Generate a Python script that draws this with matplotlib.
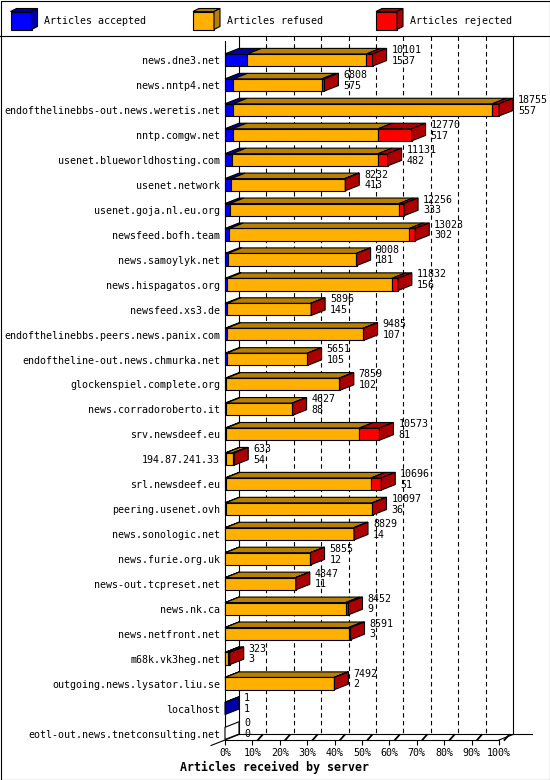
import matplotlib.pyplot as plt
from matplotlib.patches import Polygon, Rectangle

hosts = ["news.dne3.net", "news.nntp4.net", "endofthelinebbs-out.news.weretis.net",
         "nntp.comgw.net", "usenet.blueworldhosting.com", "usenet.network",
         "usenet.goja.nl.eu.org", "newsfeed.bofh.team", "news.samoylyk.net",
         "news.hispagatos.org", "newsfeed.xs3.de", "endofthelinebbs.peers.news.panix.com",
         "endoftheline-out.news.chmurka.net", "glockenspiel.complete.org",
         "news.corradoroberto.it", "srv.newsdeef.eu", "194.87.241.33", "srl.newsdeef.eu",
         "peering.usenet.ovh", "news.sonologic.net", "news.furie.org.uk",
         "news-out.tcpreset.net", "news.nk.ca", "news.netfront.net", "m68k.vk3heg.net",
         "outgoing.news.lysator.liu.se", "localhost", "eotl-out.news.tnetconsulting.net"]
offered = [10101, 6808, 18755, 12770, 11131, 8232, 12256, 13023, 9008, 11832, 5896, 9485,
           5651, 7859, 4627, 10573, 633, 10696, 10097, 8829, 5855, 4847, 8452, 8591, 323,
           7492, 1, 0]
accepted = [1537, 575, 557, 517, 482, 413, 333, 302, 181, 156, 145, 107, 105, 102, 88, 81,
            54, 51, 36, 14, 12, 11, 9, 3, 3, 2, 1, 0]
refused = [8145, 6053, 17738, 9973, 9999, 7789, 11583, 12311, 8807, 11266, 5731, 9348,
           5526, 7717, 4524, 9122, 469, 9955, 10041, 8785, 5833, 4821, 8243, 8458, 210,
           7470, 0, 0]
rejected = [419, 180, 460, 2280, 650, 30, 340, 410, 20, 410, 20, 30, 20, 40, 15, 1370, 110,
            690, 20, 30, 10, 15, 200, 130, 110, 20, 0, 0]
legend_labels = ["Articles accepted", "Articles refused", "Articles rejected"]

# front colour, darker colour for top/side faces
colors = [("#0000ff", "#0000a8"), ("#ffb000", "#b88000"), ("#ff0000", "#ad0000")]
mono = "DejaVu Sans Mono"
fs = 7.2

W, H = 550, 780
fig = plt.figure(figsize=(W / 100, H / 100), dpi=100)

# decoration layer in pixels: border, legend, title
frame = fig.add_axes([0, 0, 1, 1])
frame.set_xlim(0, W)
frame.set_ylim(H, 0)
frame.axis("off")
frame.add_patch(Rectangle((0.5, 0.5), W - 1, H - 1, fill=False, lw=0.8, ec="black"))
frame.plot([0, W], [36, 36], color="black", lw=0.8)

for (lx, tx), lab, (c1, c2) in zip([(10.5, 44), (193, 227), (376, 410)], legend_labels, colors):
    top, h, w, ddx, ddy = 11.5, 18, 21, 6, 3
    frame.add_patch(Rectangle((lx, top), w, h, fc=c1, ec="black", lw=0.8))
    frame.add_patch(Polygon([(lx, top), (lx + w, top), (lx + w + ddx, top - ddy), (lx + ddx, top - ddy)],
                            fc=c2, ec="black", lw=0.8))
    frame.add_patch(Polygon([(lx + w, top), (lx + w + ddx, top - ddy), (lx + w + ddx, top + h - ddy),
                             (lx + w, top + h)], fc=c2, ec="black", lw=0.8))
    frame.text(tx, 21, lab, fontsize=fs, family=mono, va="center", ha="left")

frame.text(180, 767, "Articles received by server", fontsize=8.4, family=mono,
           fontweight="bold", va="center", ha="left")

# chart area: x in percent of the biggest peer, y in rows
x0_px, x100_px = 225, 499
row0_px, row_px = 60, 24.94
top_px, floor_px = 41.5, 740
ax = fig.add_axes([x0_px / W, 1 - floor_px / H, (x100_px - x0_px) / W, (floor_px - top_px) / H])
ax.patch.set_alpha(0)
ybot = (floor_px - row0_px) / row_px
ytop = (top_px - row0_px) / row_px
ax.set_xlim(0, 100)
ax.set_ylim(ybot, ytop)

px_x = 100 / (x100_px - x0_px)
DX = 14 * px_x          # depth to the right
DY = 5.5 / row_px       # depth upwards
BH = 6.1 / row_px       # half height of a bar front

for s in ["top", "right"]:
    ax.spines[s].set_visible(False)
for s in ["left", "bottom"]:
    ax.spines[s].set_linewidth(0.8)
ax.set_yticks([])
ax.set_xticks(range(0, 101, 10))
ax.set_xticklabels([f"{k}%" for k in range(0, 101, 10)], family=mono, fontsize=fs)
ax.tick_params(axis="x", length=3.6, width=0.8, pad=2)

# back walls and floor
yb = ybot - DY
yt = ytop - DY
kw = dict(color="black", lw=0.8, clip_on=False)
ax.plot([DX, DX], [yt, yb], **kw)
ax.plot([100 + DX, 100 + DX], [yt, yb], **kw)
ax.plot([DX, 112], [yb, yb], **kw)
ax.plot([-5.1, DX], [ybot + DY, yb], **kw)
ax.plot([100, 100 + DX], [ybot, yb], **kw)
for k in range(10, 91, 10):
    ax.plot([k + DX, k + DX], [yt, yb], color="black", lw=0.8, ls=(0, (4, 3)),
            clip_on=False, zorder=1)
for k in range(10, 101, 10):
    ax.plot([k + 2.0, k + 3.6], [ybot, ybot - 0.2], color="black", lw=1.3, clip_on=False)

vmax = max(offered)
for i, name in enumerate(hosts):
    x = 0.0
    side = "white"
    for val, (c1, c2) in zip([accepted[i], refused[i], rejected[i]], colors):
        if val <= 0:
            continue
        w = val / vmax * 100
        ax.add_patch(Rectangle((x, i - BH), w, 2 * BH, fc=c1, ec="black", lw=0.8,
                               zorder=3, clip_on=False))
        ax.add_patch(Polygon([(x, i - BH), (x + w, i - BH), (x + w + DX, i - BH - DY),
                              (x + DX, i - BH - DY)], fc=c2, ec="black", lw=0.8,
                             zorder=3, clip_on=False))
        x += w
        side = c2
    ax.add_patch(Polygon([(x, i - BH), (x + DX, i - BH - DY), (x + DX, i + BH - DY),
                          (x, i + BH)], fc=side, ec="black", lw=0.8, zorder=3, clip_on=False))
    ax.text(-1.8, i + 0.05, name, family=mono, fontsize=fs, ha="right", va="center",
            clip_on=False)
    ax.text(x + DX + 1.8, i - 0.4, str(offered[i]), family=mono, fontsize=fs,
            ha="left", va="center", zorder=4)
    ax.text(x + DX + 1.8, i + 0.03, str(accepted[i]), family=mono, fontsize=fs,
            ha="left", va="center", zorder=4)

fig.savefig("out.png", dpi=100)
